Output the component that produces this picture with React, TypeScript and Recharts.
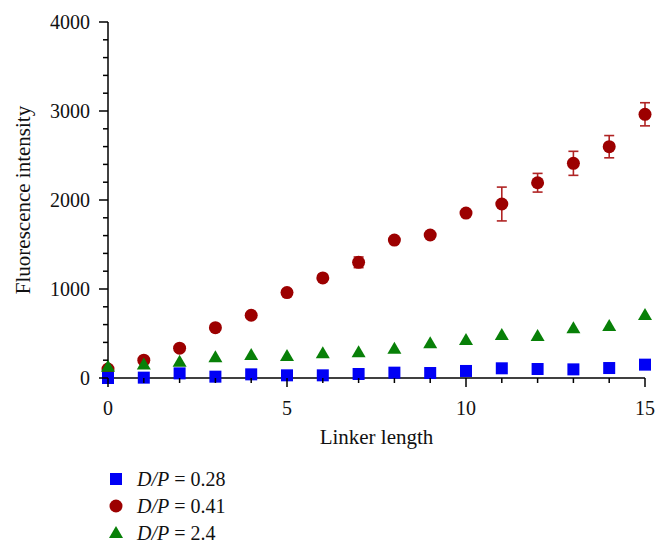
import React from "react";
import {
  ScatterChart,
  Scatter,
  XAxis,
  YAxis,
  ErrorBar,
  Legend,
} from "recharts";

const linkerLength = [0, 1, 2, 3, 4, 5, 6, 7, 8, 9, 10, 11, 12, 13, 14, 15];
const dp028 = [0, 4, 52, 15, 41, 30, 30, 45, 60, 56, 79, 109, 101, 97, 112, 150];
const dp041 = [100, 200, 335, 565, 705, 960, 1125, 1300, 1550, 1607, 1853, 1955, 2194, 2412, 2599, 2963];
// small errors are hidden behind the markers in the original
const dp041Err = [null, null, null, null, null, null, null, 60, null, null, null, 190, 105, 135, 125, 130];
const dp24 = [127, 153, 183, 232, 258, 247, 277, 288, 330, 390, 427, 483, 472, 558, 584, 708];

const xTicks = [0, 1, 2, 3, 4, 5, 6, 7, 8, 9, 10, 11, 12, 13, 14, 15];
const xLabelTicks = [0, 5, 10, 15];
const yTicks = [0, 200, 400, 600, 800, 1000, 1200, 1400, 1600, 1800, 2000, 2200, 2400, 2600, 2800, 3000, 3200, 3400, 3600, 3800, 4000];
const yLabelTicks = [0, 1000, 2000, 3000, 4000];

const BLUE = "#0000f5";
const RED = "#9c0000";
const GREEN = "#088008";
const FONT = "'Liberation Serif', 'Times New Roman', serif";

const blueData = linkerLength.map((x, i) => ({ x, y: dp028[i] }));
const redData = linkerLength.map((x, i) => ({ x, y: dp041[i], err: dp041Err[i] ?? undefined }));
const greenData = linkerLength.map((x, i) => ({ x, y: dp24[i] }));

const Square = (p: any) => (
  <rect x={p.cx - 6} y={p.cy - 6} width={12} height={12} fill={BLUE} />
);
const Circle = (p: any) => <circle cx={p.cx} cy={p.cy} r={6.5} fill={RED} />;
const Triangle = (p: any) => (
  <polygon
    points={`${p.cx},${p.cy - 7} ${p.cx + 7},${p.cy + 5} ${p.cx - 7},${p.cy + 5}`}
    fill={GREEN}
  />
);

const XTick = (props: any) => {
  const { x, y, payload } = props;
  const major = xLabelTicks.includes(payload.value);
  return (
    <g>
      <line x1={x} x2={x} y1={y} y2={y + (major ? 9 : 5)} stroke="#000" strokeWidth={1.5} />
      {major && (
        <text x={x} y={y + 37} textAnchor="middle" fontFamily={FONT} fontSize={20} fill="#111">
          {payload.value}
        </text>
      )}
    </g>
  );
};

const YTick = (props: any) => {
  const { x, y, payload } = props;
  const major = yLabelTicks.includes(payload.value);
  return (
    <g>
      <line x1={x} x2={x - (major ? 9 : 5)} y1={y} y2={y} stroke="#000" strokeWidth={1.5} />
      {major && (
        <text x={x - 18} y={y + 7} textAnchor="end" fontFamily={FONT} fontSize={20} fill="#111">
          {payload.value}
        </text>
      )}
    </g>
  );
};

const legendItems = [
  { value: "0.28", shape: "square" },
  { value: "0.41", shape: "circle" },
  { value: "2.4", shape: "triangle" },
];

const LegendContent = () => (
  <svg width={200} height={100} style={{ display: "block" }}>
    {legendItems.map((item, i) => {
      const cy = 31 + i * 27;
      const cx = 16;
      return (
        <g key={item.value}>
          {item.shape === "square" && <Square cx={cx} cy={cy} />}
          {item.shape === "circle" && <Circle cx={cx} cy={cy} />}
          {item.shape === "triangle" && <Triangle cx={cx} cy={cy} />}
          <text x={37} y={cy + 7} fontFamily={FONT} fontSize={20} fill="#111">
            <tspan fontStyle="italic">D/P</tspan>
            <tspan> = {item.value}</tspan>
          </text>
        </g>
      );
    })}
  </svg>
);

export default function App() {
  return (
    <ScatterChart
      width={652}
      height={540}
      margin={{ top: 14, right: 15, bottom: 0, left: 0 }}
    >
      <XAxis
        type="number"
        dataKey="x"
        domain={[0, 15]}
        ticks={xTicks}
        interval={0}
        tickSize={0}
        tickMargin={0}
        tickLine={false}
        tick={<XTick />}
        height={70}
        stroke="#000"
        strokeWidth={1.5}
        label={({ viewBox }: any) => (
          <text
            x={viewBox.x + viewBox.width / 2}
            y={viewBox.y + 66}
            textAnchor="middle"
            fontFamily={FONT}
            fontSize={21}
            fill="#111"
          >
            Linker length
          </text>
        )}
      />
      <YAxis
        type="number"
        dataKey="y"
        domain={[0, 4000]}
        ticks={yTicks}
        interval={0}
        tickSize={0}
        tickMargin={0}
        tickLine={false}
        tick={<YTick />}
        width={100}
        stroke="#000"
        strokeWidth={1.5}
        label={({ viewBox }: any) => (
          <text
            x={22}
            y={viewBox.y + viewBox.height / 2}
            transform={`rotate(-90, 22, ${viewBox.y + viewBox.height / 2})`}
            textAnchor="middle"
            fontFamily={FONT}
            fontSize={21}
            fill="#111"
          >
            Fluorescence intensity
          </text>
        )}
      />
      <Legend
        verticalAlign="bottom"
        align="left"
        height={100}
        content={<LegendContent />}
        wrapperStyle={{ left: 92 }}
      />
      <Scatter name="D/P = 0.41" data={redData} shape={<Circle />} isAnimationActive={false}>
        <ErrorBar dataKey="err" direction="y" width={5} stroke="#b02424" strokeWidth={1.6} />
      </Scatter>
      <Scatter name="D/P = 2.4" data={greenData} shape={<Triangle />} isAnimationActive={false} />
      <Scatter name="D/P = 0.28" data={blueData} shape={<Square />} isAnimationActive={false} />
    </ScatterChart>
  );
}
